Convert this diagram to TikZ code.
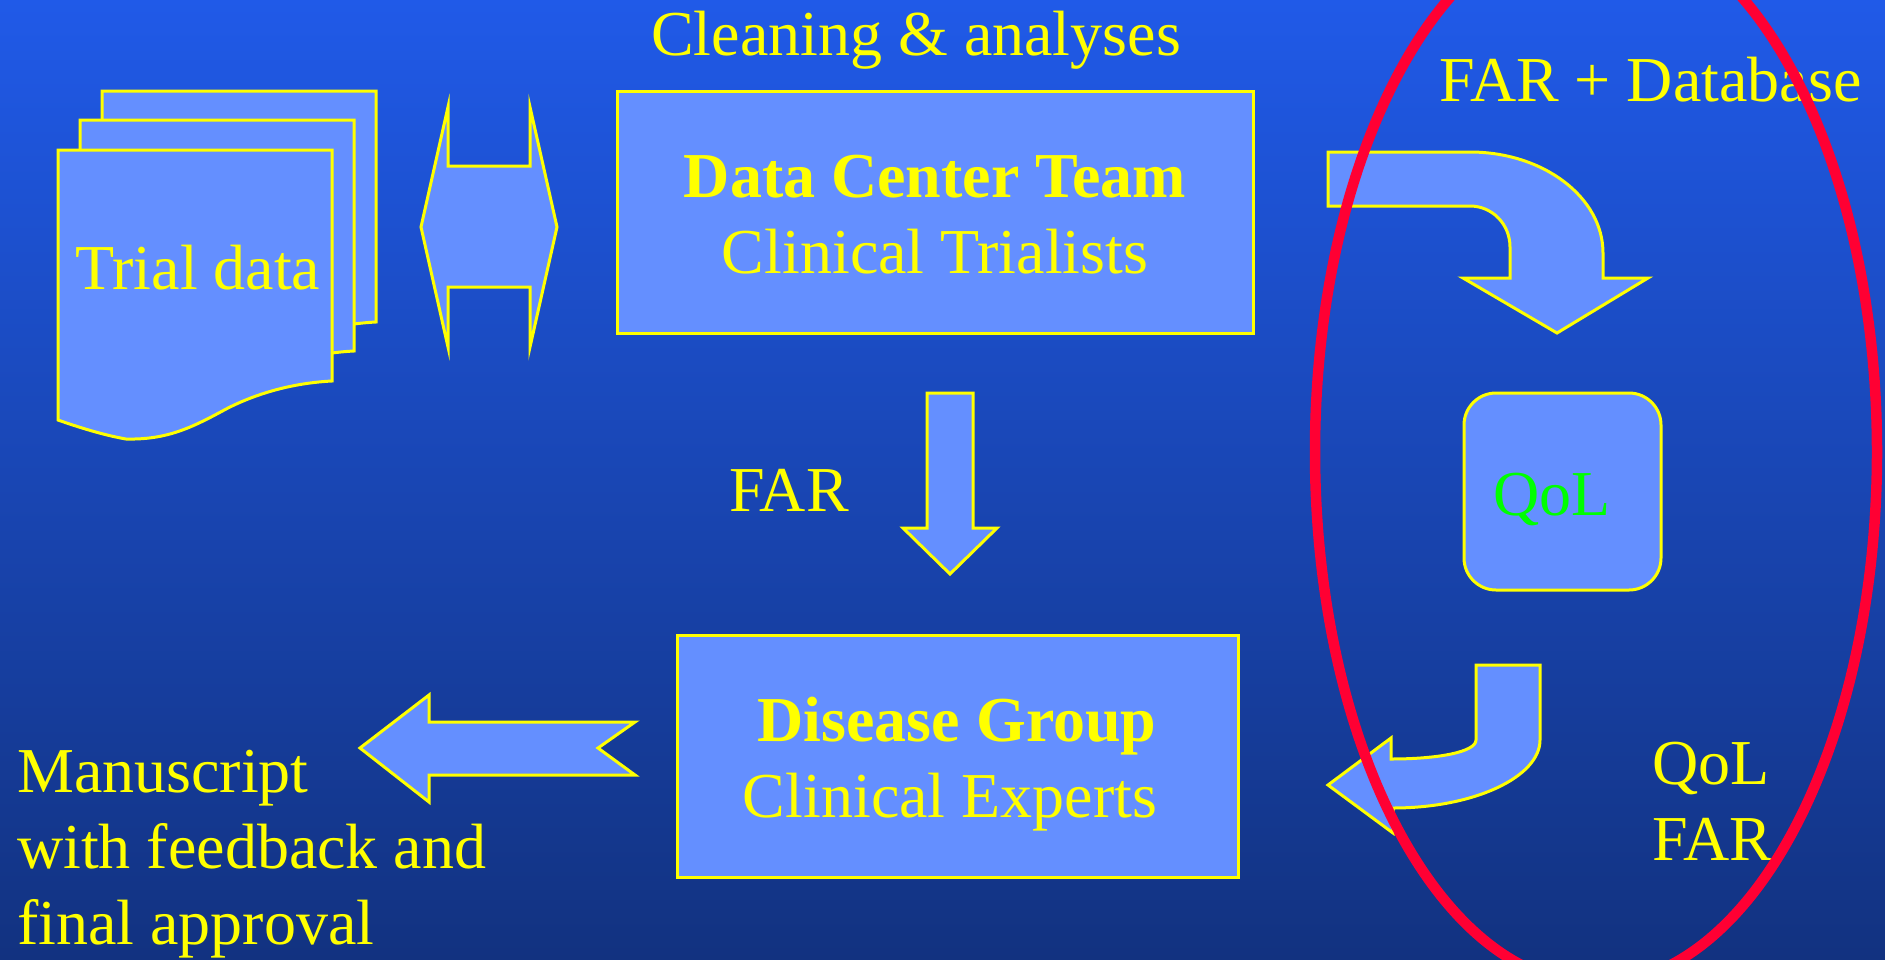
\documentclass[tikz,border=0pt]{standalone}
\usepackage{fontspec}
\setmainfont{Liberation Serif}
\definecolor{bgtop}{RGB}{32,90,232}
\definecolor{bgbot}{RGB}{18,50,128}
\definecolor{boxfill}{RGB}{100,143,255}
\definecolor{ylw}{RGB}{255,255,0}
\definecolor{rd}{RGB}{255,0,51}
\definecolor{grn}{RGB}{0,255,0}
\tikzset{
  blockshape/.style={draw=ylw, fill=boxfill, line width=3pt, line join=miter},
  boxnode/.style={draw=ylw, fill=boxfill, line width=3pt, inner sep=0pt, outer sep=0pt},
  lbl/.style={text=ylw, font=\fontsize{64}{76}\selectfont, inner sep=0pt, anchor=base},
  lblw/.style={lbl, anchor=base west},
}
\begin{document}
\begin{tikzpicture}[x=1pt,y=-1pt]
\useasboundingbox (0,0) rectangle (1885,959);
\shade[top color=bgtop, bottom color=bgbot] (0,0) rectangle (1885,959);

% stacked document pages
\foreach \dx/\dy in {44/-59, 22/-30, 0/0}{
  \begin{scope}[shift={(58+\dx,150+\dy)}]
    \draw[blockshape] (0,0) -- (274,0) -- (274,231)
      .. controls (235,233) and (200,243) .. (170,258)
      .. controls (135,277) and (110,290) .. (68,289)
      .. controls (45,285) and (20,277) .. (0,270) -- cycle;
  \end{scope}
}
\node[lbl] (trial) at (198,289) {Trial data};

% left-right double arrow
\draw[blockshape] (421,227) -- (448,107) -- (448,166) -- (530,166) -- (530,107)
  -- (557,227) -- (530,347) -- (530,287) -- (448,287) -- (448,347) -- cycle;

% Data center box
\node[boxnode, minimum width=636pt, minimum height=242pt] (dct) at (935,212) {};
\node[lbl, font=\fontsize{64}{76}\selectfont\bfseries] (dcttitle) at (935,197) {Data Center Team};
\node[lbl] (dctsub) at (935,273) {Clinical Trialists};
\node[lbl] (cleaning) at (916,55) {Cleaning \& analyses};

% FAR down arrow
\draw[blockshape] (927,393) -- (973,393) -- (973,528) -- (997,528) -- (950,574)
  -- (903,528) -- (927,528) -- cycle;
\node[lbl] (farlbl) at (789,511) {FAR};

% Disease group box
\node[boxnode, minimum width=561pt, minimum height=242pt] (dg) at (957.5,756) {};
\node[lbl, font=\fontsize{64}{76}\selectfont\bfseries] (dgtitle) at (957,741) {Disease Group};
\node[lbl] (dgsub) at (950,817) {Clinical Experts};

% left arrow to manuscript
\draw[blockshape] (360,748) -- (429,695) -- (429,722) -- (635,722) -- (598,748)
  -- (635,775) -- (429,775) -- (429,802) -- cycle;
\node[lblw] (man1) at (17,792) {Manuscript};
\node[lblw] (man2) at (17,868) {with feedback and};
\node[lblw] (man3) at (17,944) {final approval};

% top right curved arrow
\draw[blockshape] (1328,152) -- (1470,152)
  .. controls (1543,152) and (1603,197) .. (1603,253)
  -- (1603,278) -- (1648,278) -- (1557,333) -- (1463,278) -- (1510,278) -- (1510,247)
  .. controls (1510,224) and (1492,206) .. (1470,206) -- (1328,206) -- cycle;
\node[lblw] (fardb) at (1439,101) {FAR + Database};

% QoL box
\node[boxnode, rounded corners=32pt, minimum width=197pt, minimum height=197pt] (qol) at (1562.5,491.5) {};
\node[lbl, text=grn] (qoltext) at (1552,515) {QoL};

% lower curved arrow
\draw[blockshape] (1476,665) -- (1540,665) -- (1540,740)
  .. controls (1540,777) and (1474,808) .. (1393,808)
  -- (1393,833) -- (1328,785) -- (1391,738) -- (1391,759)
  .. controls (1438,759) and (1476,752) .. (1476,740) -- cycle;
\node[lblw] (qol2) at (1652,784) {QoL};
\node[lblw] (far2) at (1652,860) {FAR};

% red ellipse
\draw[rd, line width=10.5pt] (1596,452) ellipse [x radius=281, y radius=532];
\end{tikzpicture}
\end{document}
